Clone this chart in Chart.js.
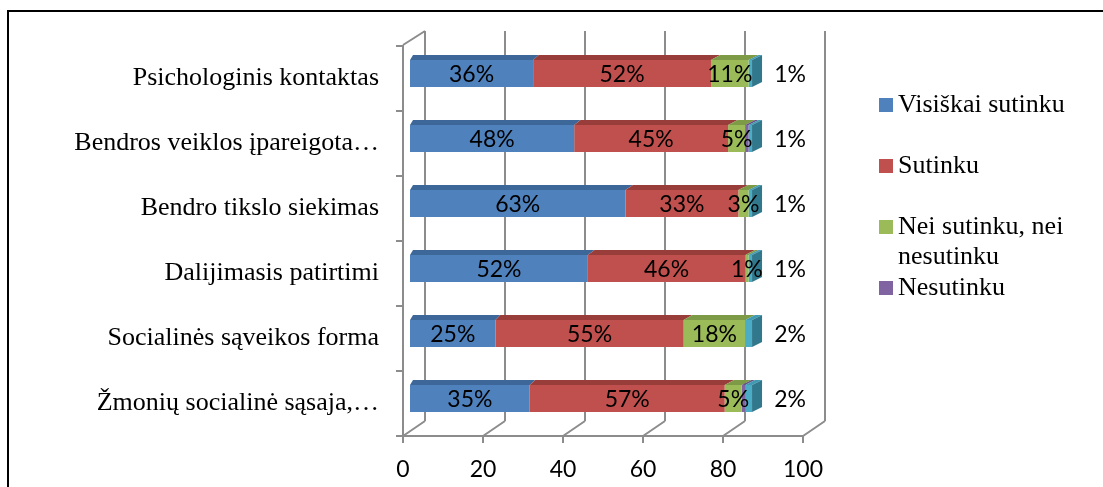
<!DOCTYPE html>
<html>
<head>
<meta charset="utf-8">
<style>
  html, body { margin: 0; padding: 0; background: #fff; overflow: hidden; }
  #frame { position: absolute; left: 7px; top: 10px; width: 1300px; height: 700px; border: 2px solid #000; box-sizing: border-box; }
  #chart { position: absolute; left: 0; top: 0; }
</style>
<script src="https://cdn.jsdelivr.net/npm/chart.js@4/dist/chart.umd.min.js"></script>
</head>
<body>
<div id="frame"></div>
<canvas id="chart" width="1103" height="487"></canvas>
<script>
// Categories and series (percent of answers)
const categories = [
    'Psichologinis kontaktas',
    'Bendros veiklos įpareigota…',
    'Bendro tikslo siekimas',
    'Dalijimasis patirtimi',
    'Socialinės sąveikos forma',
    'Žmonių socialinė sąsaja,…'
];
const visiskaiSutinku = [36, 48, 63, 52, 25, 35];
const sutinku = [52, 45, 33, 46, 55, 57];
const neiSutinku = [11, 5, 3, 1, 18, 5];
const nesutinku = [0, 1, 0, 0, 0, 1];
const visiskaiNesutinku = [1, 1, 1, 1, 2, 2];
const xTicks = [0, 20, 40, 60, 80, 100];

const seriesNames = ['Visiškai sutinku', 'Sutinku', 'Nei sutinku, nei\nnesutinku', 'Nesutinku', 'Visiškai nesutinku'];
const frontColors = ['#4F81BD', '#C0504D', '#9BBB59', '#8064A2', '#4BACC6'];
const topColors = ['#3d6699', '#993d3b', '#7d9a47', '#654f83', '#3f9ab3'];
const sideColor = '#31788c';
const gridColor = '#8c8c8c';
const depth = { x: 22, y: 15 };   // back wall offset
const barShift = 5;               // bars sit half way into the depth

// 3D look: back wall grid, front axes, bar tops/sides, labels, legend
const perspective = {
    id: 'perspective',
    beforeDatasetsDraw(chart) {
        const ctx = chart.ctx;
        const x = chart.scales.x, y = chart.scales.y;
        const top = y.top, bottom = y.bottom;
        ctx.save();
        ctx.strokeStyle = gridColor;
        ctx.lineWidth = 2;
        ctx.beginPath();
        xTicks.forEach(v => {
            const px = x.getPixelForValue(v);
            // back wall line
            ctx.moveTo(px + depth.x, top - depth.y);
            ctx.lineTo(px + depth.x, bottom - depth.y);
            // floor diagonal
            ctx.moveTo(px, bottom);
            ctx.lineTo(px + depth.x, bottom - depth.y);
            // tick
            ctx.moveTo(px, bottom);
            ctx.lineTo(px, bottom + 7);
        });
        const left = x.getPixelForValue(0), right = x.getPixelForValue(100);
        ctx.moveTo(left, top - 1);
        ctx.lineTo(left + depth.x, top - depth.y);
        ctx.moveTo(left, top - 1);
        ctx.lineTo(left, bottom);
        ctx.lineTo(right, bottom);
        for (let i = 0; i <= categories.length; i++) {
            const py = top + (bottom - top) * i / categories.length;
            ctx.moveTo(left - 7, py);
            ctx.lineTo(left, py);
        }
        ctx.stroke();
        ctx.restore();

        ctx.save();
        ctx.translate(0, -barShift);
    },
    afterDatasetsDraw(chart) {
        const ctx = chart.ctx;
        const xb = chart.scales.xb;
        const p0 = xb.getPixelForValue(0), p100 = xb.getPixelForValue(100);
        const dx = px => 3 + 7 * (px - p0) / (p100 - p0);
        const dy = 5;
        const metas = chart.data.datasets.map((d, i) => chart.getDatasetMeta(i));

        categories.forEach((c, row) => {
            let last = -1;
            metas.forEach((meta, di) => {
                const value = chart.data.datasets[di].data[row];
                if (!value) return;
                last = di;
                const el = meta.data[row];
                const x0 = Math.min(el.base, el.x), x1 = Math.max(el.base, el.x);
                const t = el.y - el.height / 2;
                ctx.fillStyle = topColors[di];
                ctx.beginPath();
                ctx.moveTo(x0, t);
                ctx.lineTo(x1, t);
                ctx.lineTo(x1 + dx(x1), t - dy);
                ctx.lineTo(x0 + dx(x0), t - dy);
                ctx.closePath();
                ctx.fill();
            });
            if (last >= 0) {
                const el = metas[last].data[row];
                const x1 = Math.max(el.base, el.x);
                const t = el.y - el.height / 2, b = el.y + el.height / 2;
                ctx.fillStyle = sideColor;
                ctx.beginPath();
                ctx.moveTo(x1, t);
                ctx.lineTo(x1 + dx(x1), t - dy);
                ctx.lineTo(x1 + dx(x1), b - dy);
                ctx.lineTo(x1, b);
                ctx.closePath();
                ctx.fill();
            }
        });

        // data labels
        ctx.font = '23px Lato';
        ctx.fillStyle = '#000';
        ctx.textAlign = 'center';
        ctx.textBaseline = 'middle';
        metas.forEach((meta, di) => {
            if (di === 3) return;
            meta.data.forEach((el, row) => {
                const value = chart.data.datasets[di].data[row];
                if (!value) return;
                const x0 = Math.min(el.base, el.x), x1 = Math.max(el.base, el.x);
                const lx = di === 4 ? x1 + 38 : (x0 + x1) / 2;
                ctx.fillText(value + '%', lx, el.y + 1);
            });
        });
        ctx.restore();
    },
    afterDraw(chart) {
        const ctx = chart.ctx;
        ctx.save();
        ctx.font = '26px "Liberation Serif"';
        ctx.fillStyle = '#000';
        ctx.textAlign = 'left';
        ctx.textBaseline = 'middle';
        for (let i = 0; i < 4; i++) {
            const cy = 105 + 61 * i;
            ctx.fillStyle = frontColors[i];
            ctx.fillRect(879, cy - 7, 14, 14);
            ctx.fillStyle = '#000';
            seriesNames[i].split('\n').forEach((line, k) => {
                ctx.fillText(line, 898, cy + 30 * k);
            });
        }
        ctx.restore();
    }
};

const seriesData = [visiskaiSutinku, sutinku, neiSutinku, nesutinku, visiskaiNesutinku];

new Chart(document.getElementById('chart'), {
    type: 'bar',
    data: {
        labels: categories,
        datasets: seriesData.map((d, i) => ({
            label: seriesNames[i],
            data: d,
            backgroundColor: frontColors[i],
            borderWidth: 0,
            xAxisID: 'xb',
            categoryPercentage: 1,
            barPercentage: 0.415
        }))
    },
    options: {
        indexAxis: 'y',
        responsive: false,
        animation: false,
        devicePixelRatio: 1,
        events: [],
        layout: { padding: { top: 46, right: 300, bottom: 0, left: 0 } },
        plugins: {
            legend: { display: false },
            tooltip: { enabled: false }
        },
        scales: {
            x: {
                type: 'linear',
                position: 'bottom',
                min: 0,
                max: 100,
                afterBuildTicks: axis => { axis.ticks = xTicks.map(v => ({ value: v })); },
                afterFit: axis => { axis.height = 51; },
                grid: { display: false, drawTicks: false },
                border: { display: false },
                ticks: { color: '#000', font: { family: 'Lato', size: 23 }, padding: 20 }
            },
            xb: {
                type: 'linear',
                display: false,
                stacked: true,
                min: -2.05,
                max: 114.9
            },
            y: {
                stacked: true,
                afterFit: axis => { axis.width = 403; },
                grid: { display: false, drawTicks: false },
                border: { display: false },
                ticks: { color: '#000', font: { family: 'Liberation Serif', size: 26 }, padding: 24 }
            }
        }
    },
    plugins: [perspective]
});
</script>
</body>
</html>
